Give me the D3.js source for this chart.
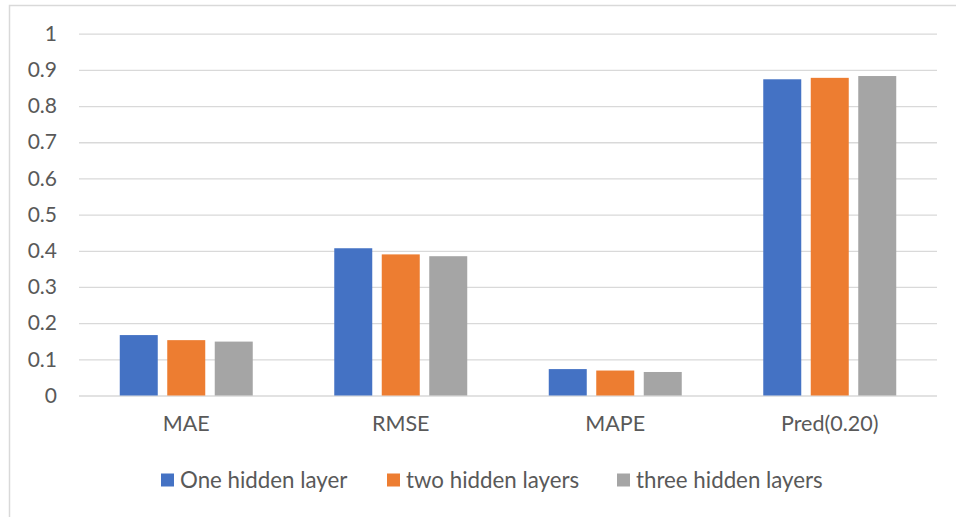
<!DOCTYPE html>
<html>
<head>
<meta charset="utf-8">
<script src="https://cdn.jsdelivr.net/npm/d3@7"></script>
<style>
  html, body { margin: 0; padding: 0; background: #fff; }
  svg { display: block; }
  text { font-family: Lato, "Open Sans", sans-serif; fill: #595959; }
</style>
</head>
<body>
<svg id="chart" width="956" height="517"></svg>
<script>
// Error metrics for networks with one, two and three hidden layers
const categories = ["MAE", "RMSE", "MAPE", "Pred(0.20)"];
const seriesNames = ["One hidden layer", "two hidden layers", "three hidden layers"];
const oneHidden   = [0.167, 0.407, 0.073, 0.874];
const twoHidden   = [0.153, 0.390, 0.069, 0.878];
const threeHidden = [0.149, 0.385, 0.065, 0.883];
const yTicks = [0, 0.1, 0.2, 0.3, 0.4, 0.5, 0.6, 0.7, 0.8, 0.9, 1];
const colors = ["#4472C4", "#ED7D31", "#A5A5A5"];

const seriesValues = [oneHidden, twoHidden, threeHidden];
const rows = categories.map((c, i) => ({
  category: c,
  values: seriesNames.map((s, j) => ({ series: s, value: seriesValues[j][i] }))
}));

const svg = d3.select("#chart");
const W = 956, H = 517;

// chart frame
svg.append("path")
  .attr("d", `M9.5,${H} V5.5 H${W}`)
  .attr("fill", "none")
  .attr("stroke", "#d9d9d9")
  .attr("stroke-width", 1.5);

const x0 = d3.scaleBand()
  .domain(categories)
  .range([79, 937])
  .paddingInner(0.38)
  .paddingOuter(0.19);

const x1 = d3.scaleBand()
  .domain(seriesNames)
  .range([0, x0.bandwidth()])
  .paddingInner(0.2);

const y = d3.scaleLinear().domain([0, 1]).range([395.5, 33.7]);

// gridlines and value labels
const yAxis = d3.axisLeft(y)
  .tickValues(yTicks)
  .tickSize(-(937 - 79))
  .tickPadding(22)
  .tickFormat(d3.format("~g"));

const gy = svg.append("g")
  .attr("transform", "translate(79,0)")
  .call(yAxis);
gy.select(".domain").remove();
gy.selectAll(".tick line").attr("stroke", "#d9d9d9").attr("stroke-width", 1.3);
gy.selectAll(".tick text")
  .attr("font-size", 21)
  .attr("font-family", "Lato, 'Open Sans', sans-serif")
  .attr("fill", "#595959");

// bars
const groups = svg.append("g")
  .selectAll("g")
  .data(rows)
  .join("g")
  .attr("transform", d => `translate(${x0(d.category)},0)`);

groups.selectAll("rect")
  .data(d => d.values)
  .join("rect")
  .attr("x", d => x1(d.series))
  .attr("y", d => y(d.value))
  .attr("width", x1.bandwidth())
  .attr("height", d => y(0) - y(d.value))
  .attr("fill", (d, i) => colors[i]);

// category axis
const xAxis = d3.axisBottom(x0).tickSize(0).tickPadding(20);
const gx = svg.append("g")
  .attr("transform", `translate(0,${y(0)})`)
  .call(xAxis);
gx.select(".domain").remove();
gx.selectAll(".tick text")
  .attr("font-size", 21.5)
  .attr("font-family", "Lato, 'Open Sans', sans-serif")
  .attr("fill", "#595959");

// legend
const legendX = [161, 387, 617];
const legend = svg.append("g")
  .selectAll("g")
  .data(seriesNames)
  .join("g")
  .attr("transform", (d, i) => `translate(${legendX[i]},473.5)`);

legend.append("rect")
  .attr("width", 13)
  .attr("height", 13)
  .attr("fill", (d, i) => colors[i]);

legend.append("text")
  .attr("x", 19)
  .attr("y", 7)
  .attr("dy", "0.35em")
  .attr("font-size", 22.3)
  .text(d => d);
</script>
</body>
</html>
